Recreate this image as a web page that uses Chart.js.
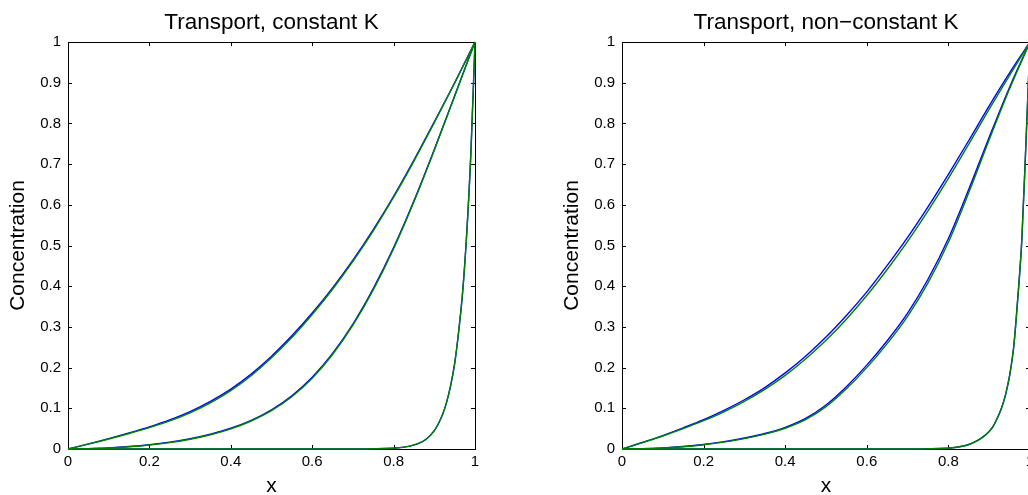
<!DOCTYPE html>
<html><head><meta charset="utf-8">
<script src="https://cdn.jsdelivr.net/npm/chart.js@4.4.1/dist/chart.umd.min.js"></script>
<style>
html,body{margin:0;padding:0;background:#fff;overflow:hidden;width:1028px;height:495px;}
canvas{position:absolute;top:0;}
#c1{left:0px}
#c2{left:554px}
</style></head><body>
<canvas id="c1" width="514" height="495"></canvas>
<canvas id="c2" width="515" height="495"></canvas>
<script>
// ---- data ----
const X_SMOOTH = [0,0.05,0.1,0.15,0.2,0.25,0.3,0.35,0.4,0.45,0.5,0.55,0.6,0.65,0.7,0.75,0.8,0.85,0.9,0.95,1];
const X_STEEP  = [0,0.7,0.8,0.84,0.86,0.88,0.9,0.91,0.92,0.93,0.94,0.95,0.96,0.97,0.98,0.99,1];

// left panel: constant K
const leftBlue1  = [0,0.0125,0.0255,0.0395,0.0545,0.0715,0.092,0.117,0.147,0.184,0.228,0.278,0.334,0.396,0.464,0.539,0.621,0.710,0.804,0.900,1];
const leftGreen1 = [0,0.012,0.0245,0.038,0.0525,0.069,0.089,0.1135,0.1435,0.180,0.224,0.274,0.3305,0.3925,0.461,0.536,0.6185,0.7075,0.802,0.899,1];
const leftBlue2  = [0,0.001,0.0028,0.006,0.0105,0.0168,0.0252,0.0363,0.051,0.0705,0.0965,0.131,0.1765,0.235,0.307,0.394,0.495,0.610,0.736,0.868,1];
const leftGreen2 = [0,0.0009,0.0026,0.0055,0.0098,0.0158,0.024,0.035,0.0495,0.0688,0.0943,0.1285,0.174,0.2323,0.3043,0.3908,0.492,0.6075,0.734,0.867,1];
const leftBlue3  = [0,0,0.002,0.007,0.013,0.024,0.045,0.062,0.084,0.114,0.155,0.210,0.290,0.390,0.535,0.730,1];
const leftGreen3 = [0,0,0.002,0.007,0.013,0.024,0.045,0.062,0.084,0.114,0.155,0.210,0.290,0.390,0.535,0.730,1];

// right panel: non-constant K
const rightBlue1  = [0,0.016,0.033,0.052,0.072,0.095,0.121,0.151,0.187,0.228,0.275,0.328,0.386,0.451,0.520,0.595,0.675,0.758,0.843,0.924,1];
const rightGreen1 = [0,0.0155,0.032,0.050,0.0695,0.0915,0.117,0.1465,0.181,0.221,0.267,0.319,0.377,0.441,0.510,0.585,0.665,0.749,0.835,0.918,1];
const rightBlue2  = [0,0.0008,0.0027,0.006,0.011,0.018,0.027,0.038,0.053,0.075,0.108,0.153,0.206,0.266,0.334,0.417,0.517,0.638,0.766,0.889,1];
const rightGreen2 = [0,0.0007,0.0025,0.0055,0.0105,0.017,0.0255,0.0365,0.051,0.072,0.104,0.148,0.200,0.259,0.326,0.408,0.508,0.630,0.760,0.885,1];
const rightBlue3  = [0,0,0.002,0.008,0.015,0.026,0.043,0.056,0.076,0.100,0.133,0.180,0.250,0.370,0.515,0.750,1];
const rightGreen3 = [0,0,0.002,0.008,0.015,0.026,0.043,0.056,0.076,0.100,0.133,0.180,0.250,0.370,0.515,0.750,1];

const X_TICKS = [0,0.2,0.4,0.6,0.8,1];
const X_TICK_LABELS = ['0','0.2','0.4','0.6','0.8','1'];
const Y_TICKS = [0,0.1,0.2,0.3,0.4,0.5,0.6,0.7,0.8,0.9,1];
const Y_TICK_LABELS = ['0','0.1','0.2','0.3','0.4','0.5','0.6','0.7','0.8','0.9','1'];

const TITLES = ['Transport, constant K', 'Transport, non\u2212constant K'];
const X_LABEL = 'x';
const Y_LABEL = 'Concentration';

const FAMILY = '"Liberation Sans", Arial, Helvetica, sans-serif';
const BLUE = '#0000ff';
const GREEN = '#008000';

function pts(xs, ys){ return xs.map((x,i)=>({x:x, y:ys[i]})); }

function ds(xs, ys, color){
  return {data: pts(xs, ys), borderColor: color, borderWidth: 1.4, pointRadius: 0,
          fill: false, cubicInterpolationMode: 'monotone', clip: 4};
}

const framePlugin = {
  id: 'frame',
  beforeDatasetsDraw(chart){
    const {ctx, chartArea: a, scales} = chart;
    const xs = scales.x, ys = scales.y;
    ctx.save();
    ctx.strokeStyle = '#000';
    ctx.lineWidth = 1;
    ctx.strokeRect(a.left + 0.5, a.top + 0.5, a.right - a.left, a.bottom - a.top);
    ctx.beginPath();
    const L = 4;
    X_TICKS.forEach(v => {
      const p = Math.round(xs.getPixelForValue(v)) + 0.5;
      ctx.moveTo(p, a.bottom); ctx.lineTo(p, a.bottom - L);
      ctx.moveTo(p, a.top); ctx.lineTo(p, a.top + L);
    });
    Y_TICKS.forEach(v => {
      const p = Math.round(ys.getPixelForValue(v)) + 0.5;
      ctx.moveTo(a.left, p); ctx.lineTo(a.left + L, p);
      ctx.moveTo(a.right, p); ctx.lineTo(a.right - L, p);
    });
    ctx.stroke();
    ctx.restore();
  },
  afterDraw(chart){
    const {ctx, chartArea: a} = chart;
    ctx.save();
    ctx.fillStyle = '#000';
    ctx.font = '22.5px ' + FAMILY;
    ctx.textAlign = 'center';
    ctx.textBaseline = 'alphabetic';
    ctx.fillText(chart.options.plugins.frame.title, (a.left + a.right) / 2, 29);
    ctx.restore();
  }
};

function makeChart(id, title, sets, padRight){
  const tickFont = {family: FAMILY, size: 15};
  return new Chart(document.getElementById(id), {
    type: 'line',
    data: {datasets: sets},
    plugins: [framePlugin],
    options: {
      responsive: false, animation: false,
      layout: {padding: {top: 42, right: padRight, left: 0, bottom: 0}},
      plugins: {legend: {display: false}, tooltip: {enabled: false}, frame: {title: title}},
      scales: {
        x: {
          type: 'linear', min: 0, max: 1,
          afterBuildTicks: s => { s.ticks = X_TICKS.map(v => ({value: v})); },
          afterFit: s => { s.height = 46; },
          ticks: {callback: v => X_TICK_LABELS[X_TICKS.indexOf(v)], autoSkip: false, maxRotation: 0,
                  padding: 4, font: tickFont, color: '#000'},
          grid: {display: false, drawTicks: false},
          border: {display: false},
          title: {display: true, text: X_LABEL, color: '#000', padding: 0,
                  font: {family: FAMILY, size: 21, lineHeight: 0.82}}
        },
        y: {
          type: 'linear', min: 0, max: 1,
          afterBuildTicks: s => { s.ticks = Y_TICKS.map(v => ({value: v})); },
          afterFit: s => { s.width = 68; },
          ticks: {callback: v => Y_TICK_LABELS[Y_TICKS.indexOf(v)], autoSkip: false,
                  padding: 7, font: tickFont, color: '#000'},
          grid: {display: false, drawTicks: false},
          border: {display: false},
          title: {display: true, text: Y_LABEL, color: '#000', padding: {top: 6, bottom: 0},
                  font: {family: FAMILY, size: 21, lineHeight: 1.2}}
        }
      }
    }
  });
}

// green (numerical) first so it is drawn on top of blue (exact)
makeChart('c1', TITLES[0], [
  ds(X_SMOOTH, leftGreen1, GREEN), ds(X_SMOOTH, leftGreen2, GREEN), ds(X_STEEP, leftGreen3, GREEN),
  ds(X_SMOOTH, leftBlue1, BLUE), ds(X_SMOOTH, leftBlue2, BLUE), ds(X_STEEP, leftBlue3, BLUE)
], 39);

makeChart('c2', TITLES[1], [
  ds(X_SMOOTH, rightGreen1, GREEN), ds(X_SMOOTH, rightGreen2, GREEN), ds(X_STEEP, rightGreen3, GREEN),
  ds(X_SMOOTH, rightBlue1, BLUE), ds(X_SMOOTH, rightBlue2, BLUE), ds(X_STEEP, rightBlue3, BLUE)
], 39);
</script>
</body></html>
